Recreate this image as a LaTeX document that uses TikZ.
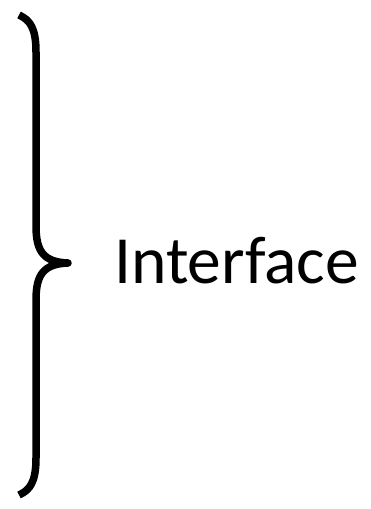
\documentclass[tikz,border=0pt]{standalone}
\usepackage{fontspec}
\setmainfont{Carlito}
\begin{document}
\begin{tikzpicture}[x=1pt,y=-1pt,
  bracestyle/.style={line width=7.5pt, line cap=butt, line join=round},
  labelstyle/.style={font=\fontsize{67.5}{70}\selectfont, inner sep=0pt, anchor=base west}]
\useasboundingbox (0,0) rectangle (371,509);
\draw[bracestyle] (19,15) .. controls (30,20) and (36,28) .. (36,52)
  -- (36,226) .. controls (36,252) and (44,262) .. (68,263)
  .. controls (44,264) and (36,274) .. (36,300)
  -- (36,458) .. controls (36,482) and (30,490) .. (19,495);
\node[labelstyle] (lbl) at (114,283) {Interface};
\end{tikzpicture}
\end{document}
